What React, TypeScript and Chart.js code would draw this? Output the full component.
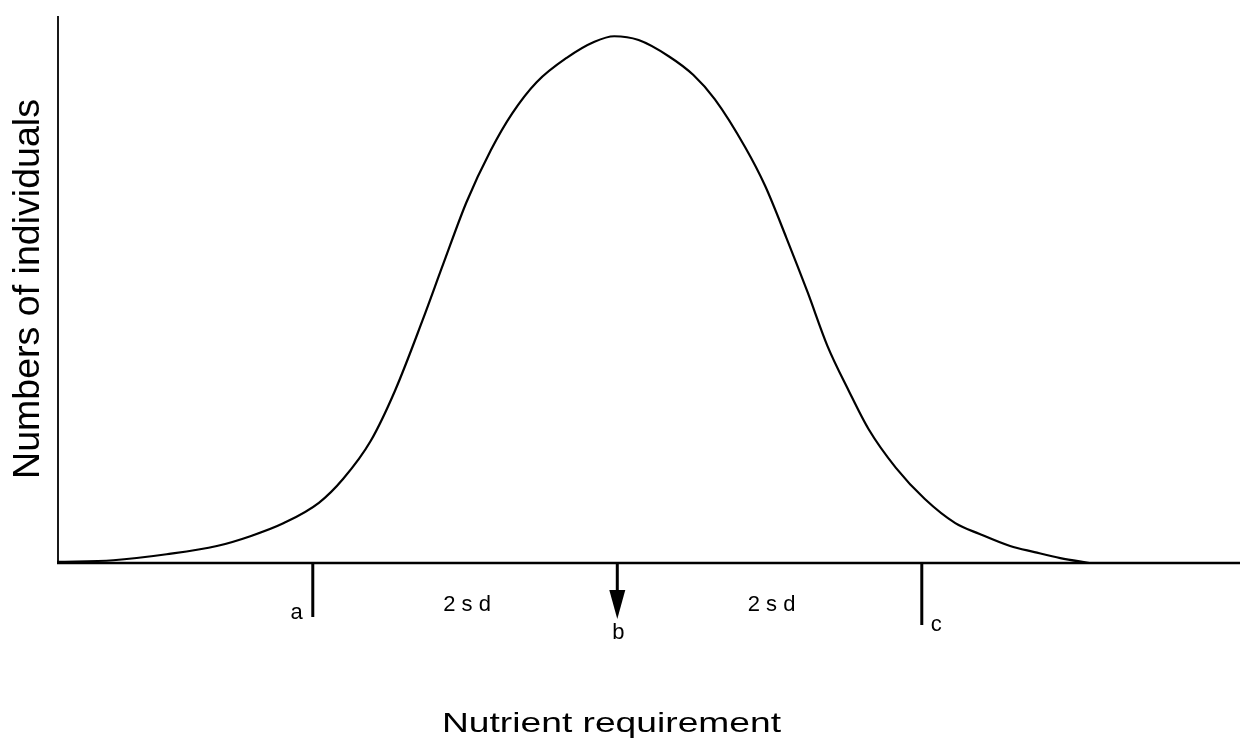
import React, { useEffect, useRef } from "react";
import { Chart, registerables } from "chart.js";

Chart.register(...registerables);

// Curve: x in standard-deviation units (b = mean = 0), y = relative number of individuals
const curveX = [
  -3.68, -3.31, -2.96, -2.63, -2.41, -2.19, -1.96, -1.8, -1.62, -1.46, -1.28, -1.14, -0.99, -0.83,
  -0.69, -0.53, -0.33, -0.15, -0.02, 0.14, 0.34, 0.5, 0.64, 0.84, 0.97, 1.11, 1.25, 1.38, 1.52,
  1.65, 1.83, 2.02, 2.22, 2.38, 2.58, 2.74, 2.91, 3.1,
];
const curveY = [
  0.2, 0.5, 1.6, 3.1, 4.9, 7.3, 11.0, 15.4, 22.3, 31.5, 44.3, 54.9, 66.0, 75.5, 82.2, 87.9, 92.4,
  95.3, 96.3, 95.6, 92.6, 89.2, 84.8, 76.0, 69.0, 59.5, 49.5, 39.7, 31.5, 24.5, 17.4, 11.7, 7.3,
  5.3, 3.1, 2.0, 0.9, 0.0,
];

// Markers on the requirement axis
const markerLabels = ["a", "b", "c"];
const markerPositions = [-2, 0, 2];
const spanLabels = ["2 s d", "2 s d"];
const spanPositions = [-1, 1];

const xTitle = "Nutrient requirement";
const yTitle = "Numbers of individuals";

const X_MIN = -3.68;
const X_MAX = 4.09;
const Y_MAX = 100;

const FONT = "'Liberation Sans', Arial, Helvetica, sans-serif";

const annotationPlugin = {
  id: "annotations",
  afterDatasetsDraw(chart: any) {
    const ctx: CanvasRenderingContext2D = chart.ctx;
    const area = chart.chartArea;
    const xs = chart.scales.x;
    ctx.save();
    ctx.strokeStyle = "#000";
    ctx.fillStyle = "#000";

    // axes
    ctx.lineWidth = 1.8;
    ctx.beginPath();
    ctx.moveTo(area.left + 1, area.top);
    ctx.lineTo(area.left + 1, area.bottom);
    ctx.stroke();
    ctx.lineWidth = 2.5;
    ctx.beginPath();
    ctx.moveTo(area.left, area.bottom);
    ctx.lineTo(area.right, area.bottom);
    ctx.stroke();

    // markers
    markerLabels.forEach((lab, i) => {
      const px = xs.getPixelForValue(markerPositions[i]);
      ctx.lineWidth = 3;
      ctx.font = `22px ${FONT}`;
      if (lab === "b") {
        ctx.beginPath();
        ctx.moveTo(px, area.bottom);
        ctx.lineTo(px, area.bottom + 32);
        ctx.stroke();
        ctx.beginPath();
        ctx.moveTo(px - 8, area.bottom + 27);
        ctx.lineTo(px + 8, area.bottom + 27);
        ctx.lineTo(px, area.bottom + 56);
        ctx.closePath();
        ctx.fill();
        ctx.textAlign = "center";
        ctx.fillText(lab, px + 1, area.bottom + 76);
      } else if (lab === "a") {
        ctx.beginPath();
        ctx.moveTo(px, area.bottom);
        ctx.lineTo(px, area.bottom + 54);
        ctx.stroke();
        ctx.textAlign = "right";
        ctx.fillText(lab, px - 10, area.bottom + 56);
      } else {
        ctx.beginPath();
        ctx.moveTo(px, area.bottom);
        ctx.lineTo(px, area.bottom + 62);
        ctx.stroke();
        ctx.textAlign = "left";
        ctx.fillText(lab, px + 9, area.bottom + 68);
      }
    });

    spanLabels.forEach((lab, i) => {
      const px = xs.getPixelForValue(spanPositions[i]);
      ctx.font = `22px ${FONT}`;
      ctx.textAlign = "center";
      ctx.textBaseline = "alphabetic";
      ctx.fillText(lab, px + 2, area.bottom + 48);
    });

    // y title (rotated)
    ctx.save();
    ctx.font = `36px ${FONT}`;
    ctx.translate(39, 289);
    ctx.rotate(-Math.PI / 2);
    ctx.textAlign = "center";
    const yw = ctx.measureText(yTitle).width;
    ctx.scale(380 / yw, 1);
    ctx.fillText(yTitle, 0, 0);
    ctx.restore();

    // x title (stretched like the scanned original)
    ctx.save();
    ctx.font = `28px ${FONT}`;
    ctx.textAlign = "center";
    const xw = ctx.measureText(xTitle).width;
    ctx.translate((area.left + area.right) / 2 - 37, 732);
    ctx.scale(339 / xw, 1);
    ctx.fillText(xTitle, 0, 0);
    ctx.restore();

    ctx.restore();
  },
};

export default function App() {
  const ref = useRef<HTMLCanvasElement | null>(null);
  useEffect(() => {
    if (!ref.current) return;
    const chart = new Chart(ref.current, {
      type: "line",
      data: {
        datasets: [
          {
            data: curveX.map((x, i) => ({ x, y: curveY[i] })),
            borderColor: "#000",
            borderWidth: 2.2,
            pointRadius: 0,
            fill: false,
            cubicInterpolationMode: "monotone",
          },
        ],
      },
      options: {
        responsive: false,
        animation: false,
        events: [],
        layout: { padding: { left: 57, top: 16, right: 11, bottom: 178 } },
        plugins: { legend: { display: false }, tooltip: { enabled: false }, title: { display: false } },
        scales: {
          x: { type: "linear", min: X_MIN, max: X_MAX, display: false },
          y: { type: "linear", min: 0, max: Y_MAX, display: false },
        },
      },
      plugins: [annotationPlugin],
    } as any);
    return () => chart.destroy();
  }, []);
  return (
    <div style={{ position: "fixed", left: 0, top: 0, width: 1251, height: 741, background: "#fff" }}>
      <canvas ref={ref} width={1251} height={741} />
    </div>
  );
}
